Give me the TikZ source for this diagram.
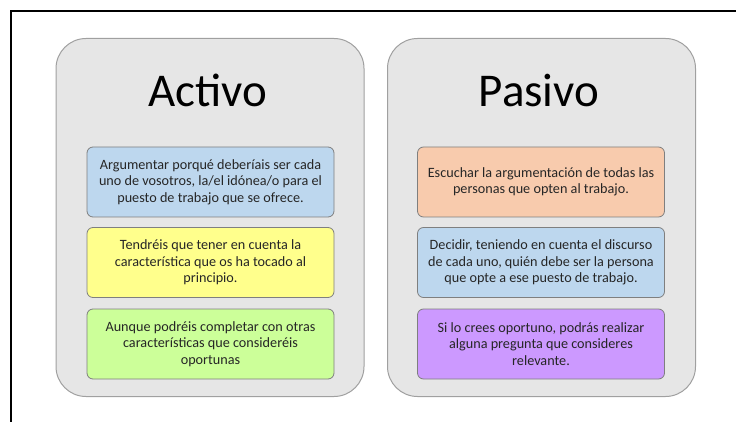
\documentclass[tikz,border=0pt]{standalone}
\usepackage{fontspec}
\setmainfont{Carlito}
\definecolor{panelfill}{HTML}{E6E6E6}
\definecolor{panelline}{HTML}{A0A0A0}
\definecolor{boxline}{HTML}{7F7F7F}
\definecolor{cblue}{HTML}{BDD7EE}
\definecolor{cyellow}{HTML}{FFFF8C}
\definecolor{cgreen}{HTML}{CCFF99}
\definecolor{corange}{HTML}{F8CBAD}
\definecolor{cpurple}{HTML}{CC99FF}
\definecolor{txt}{HTML}{262626}
\begin{document}
\begin{tikzpicture}[x=1pt,y=-1pt,
  panel/.style={draw=panelline, line width=1pt, fill=panelfill, rounded corners=30pt,
    minimum width=308pt, minimum height=358pt, inner sep=0pt},
  title/.style={font=\fontsize{47}{50}\selectfont, text=black, inner sep=0pt},
  infobox/.style={draw=boxline, line width=0.8pt, rounded corners=6pt,
    minimum width=247pt, minimum height=70pt, align=center,
    inner sep=0pt, text=txt, font=\fontsize{14.2}{16.5}\selectfont}]
\useasboundingbox (0,0) rectangle (736,422);
\fill[white] (0,0) rectangle (736,422);
\coordinate (fA) at (11,422);
\coordinate (fB) at (11,11);
\coordinate (fC) at (736,11);
\draw[line width=1.6pt, black] (fA) -- (fB) -- (fC);
% panels
\node[panel] (pA) at (210,217.5) {};
\node[panel] (pP) at (541.5,217.5) {};
\node[title, anchor=base] (tA) at (208,107) {Activo};
\node[title, anchor=base] (tP) at (539,107) {Pasivo};
% left boxes
\node[infobox, fill=cblue] (a1) at (210.5,182) {Argumentar porqué deberíais ser cada\\uno de vosotros, la/el idónea/o para el\\puesto de trabajo que se ofrece.};
\node[infobox, fill=cyellow] (a2) at (210.5,262.5) {Tendréis que tener en cuenta la\\característica que os ha tocado al\\principio.};
\node[infobox, fill=cgreen] (a3) at (210.5,344) {Aunque podréis completar con otras\\características que consideréis\\oportunas};
% right boxes
\node[infobox, fill=corange] (b1) at (541,182) {Escuchar la argumentación de todas las\\personas que opten al trabajo.};
\node[infobox, fill=cblue] (b2) at (541,262.5) {Decidir, teniendo en cuenta el discurso\\de cada uno, quién debe ser la persona\\que opte a ese puesto de trabajo.};
\node[infobox, fill=cpurple] (b3) at (541,344) {Si lo crees oportuno, podrás realizar\\alguna pregunta que consideres\\relevante.};
\end{tikzpicture}
\end{document}
